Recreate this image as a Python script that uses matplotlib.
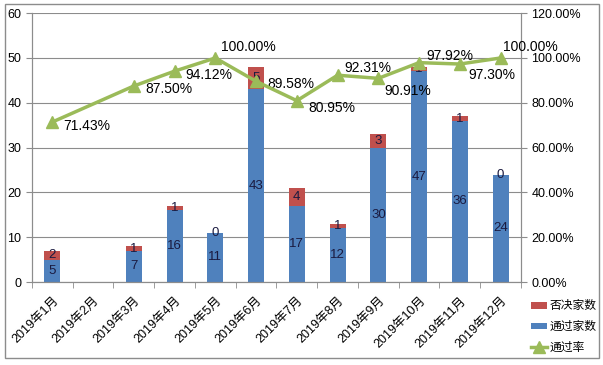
import numpy as np
import matplotlib
matplotlib.use("Agg")
import matplotlib.pyplot as plt
from matplotlib.patches import Rectangle

plt.rcParams['font.family'] = ['Liberation Sans', 'Noto Sans CJK SC', 'DejaVu Sans']

months = ["2019年1月", "2019年2月", "2019年3月", "2019年4月", "2019年5月", "2019年6月",
          "2019年7月", "2019年8月", "2019年9月", "2019年10月", "2019年11月", "2019年12月"]
passed = [5, None, 7, 16, 11, 43, 17, 12, 30, 47, 36, 24]
rejected = [2, None, 1, 1, 0, 5, 4, 1, 3, 1, 1, 0]
rate = [71.43, None, 87.50, 94.12, 100.00, 89.58, 80.95, 92.31, 90.91, 97.92, 97.30, 100.00]
# label offsets in points (dx, dy) for the rate labels
rate_offsets = [(8, -3), None, (8, -2), (8, -3), (4, 8), (8, -2), (8, -5), (5, 5),
                (4, -9), (5, 5), (6, -8), (2, 8)]

blue = "#4F81BD"
red = "#C0504D"
green = "#9BBB59"

fig = plt.figure(figsize=(6.03, 3.65), dpi=100)
fig.patches.append(Rectangle((0.008, 0.02), 0.985, 0.97, transform=fig.transFigure,
                             fill=False, edgecolor="#8c8c8c", linewidth=1))
ax = fig.add_axes([0.053, 0.227, 0.811, 0.737])
ax2 = ax.twinx()

x = np.arange(len(months))
valid = [i for i in range(len(months)) if passed[i] is not None]
xv = np.array(valid)
pv = np.array([passed[i] for i in valid])
rv = np.array([rejected[i] for i in valid])
w = 0.39
b1 = ax.bar(xv, pv, w, color=blue, label="通过家数", zorder=2)
b2 = ax.bar(xv, rv, w, bottom=pv, color=red, label="否决家数", zorder=2)
for xi, p, r in zip(xv, pv, rv):
    ax.text(xi, p / 2, str(p), ha="center", va="center", fontsize=9.5, color="#1a1a40", zorder=3)
    ax.text(xi, p + r / 2, str(r), ha="center", va="center", fontsize=9.5, color="#1a1a40", zorder=3)

ratev = np.array([rate[i] for i in valid])
ln, = ax2.plot(xv, ratev, color=green, linewidth=2.5, marker="^", markersize=8,
               label="通过率", zorder=4)
for i in valid:
    dx, dy = rate_offsets[i]
    ax2.annotate(f"{rate[i]:.2f}%", (i, rate[i]), xytext=(dx, dy), textcoords="offset points",
                 ha="left", va="center", fontsize=10, color="black")

ax.set_xlim(-0.5, len(months) - 0.5)
ax.set_ylim(0, 60)
ax.set_yticks(range(0, 61, 10))
ax2.set_ylim(0, 120)
ax2.set_yticks(range(0, 121, 20))
ax2.set_yticklabels([f"{v:.2f}%" for v in range(0, 121, 20)])
ax.yaxis.grid(True, color="#8c8c8c", linewidth=0.8, zorder=0)
ax.set_axisbelow(True)
ax.set_xticks(x)
ax.set_xticklabels(months, rotation=45, ha="right", rotation_mode="anchor", fontsize=9)
ax.set_xticks(np.arange(-0.5, len(months), 1), minor=True)
ax.tick_params(axis="x", which="major", length=0, pad=9)
ax.tick_params(axis="x", which="minor", length=4, color="#8c8c8c", direction="out")
ax.tick_params(axis="y", labelsize=9, length=4, color="#8c8c8c")
ax2.tick_params(axis="y", labelsize=9, length=4, color="#8c8c8c")
for a in (ax, ax2):
    a.spines["top"].set_visible(False)
    for s in ("left", "right", "bottom"):
        a.spines[s].set_color("#8c8c8c")

fig.legend(handles=[b2, b1, ln], labels=["否决家数", "通过家数", "通过率"],
           loc="upper left", bbox_to_anchor=(0.872, 0.19), frameon=False,
           fontsize=8.5, handlelength=1.4, handleheight=0.5, handletextpad=0.2,
           labelspacing=0.75, borderaxespad=0)
fig.savefig("out.png", dpi=100)
